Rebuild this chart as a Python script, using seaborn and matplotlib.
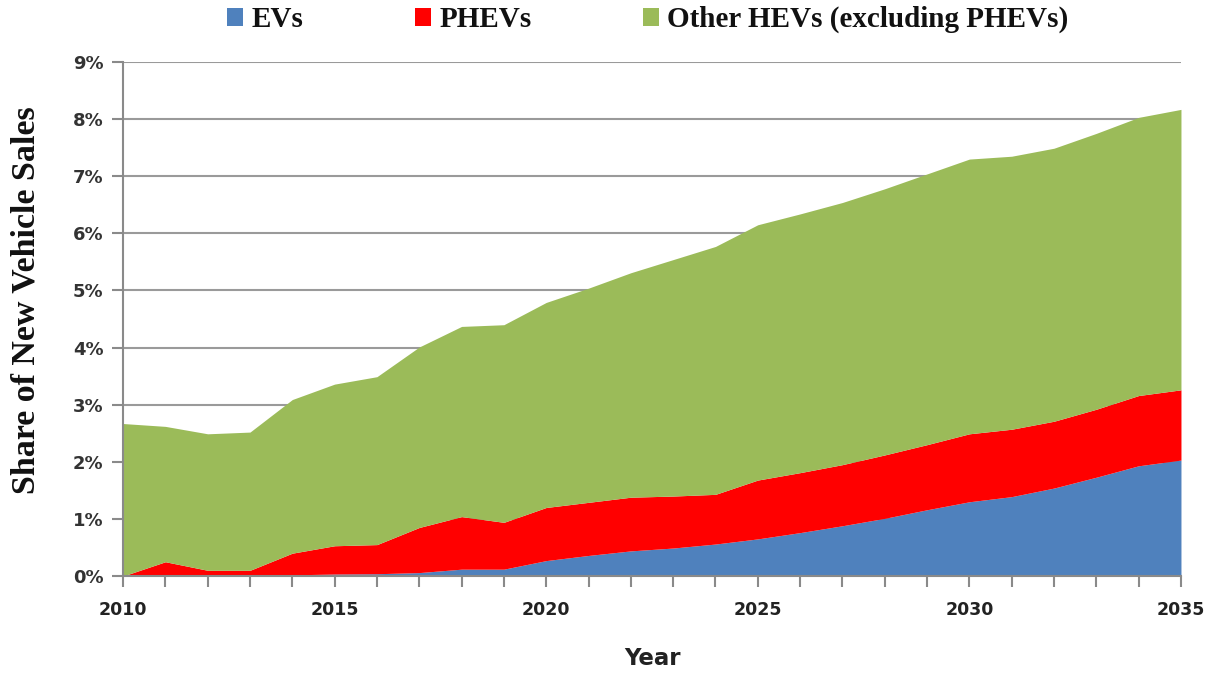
import numpy as np
import pandas as pd
import matplotlib
matplotlib.use("Agg")
import matplotlib.pyplot as plt
import seaborn as sns
from matplotlib.patches import Patch
from matplotlib.ticker import FuncFormatter, MultipleLocator

years = list(range(2010, 2036))
# cumulative tops (% of new vehicle sales)
ev_top = [0.0, 0.01, 0.01, 0.01, 0.02, 0.035, 0.04, 0.06, 0.12, 0.12, 0.27, 0.36, 0.44,
          0.49, 0.56, 0.65, 0.76, 0.88, 1.01, 1.16, 1.30, 1.39, 1.54, 1.73, 1.93, 2.03]
phev_top = [0.0, 0.25, 0.10, 0.10, 0.40, 0.53, 0.55, 0.85, 1.04, 0.94, 1.20, 1.29, 1.38,
            1.40, 1.43, 1.68, 1.81, 1.95, 2.12, 2.30, 2.49, 2.57, 2.71, 2.92, 3.16, 3.26]
total_top = [2.67, 2.62, 2.49, 2.52, 3.09, 3.36, 3.49, 4.01, 4.37, 4.40, 4.79, 5.04, 5.31,
             5.54, 5.77, 6.15, 6.34, 6.54, 6.78, 7.04, 7.30, 7.35, 7.49, 7.75, 8.03, 8.17]

series_names = ["EVs", "PHEVs", "Other HEVs (excluding PHEVs)"]
colors = ["#4F81BD", "#FF0000", "#9BBB59"]

df = pd.DataFrame({"Year": years, "ev": ev_top, "phev": phev_top, "total": total_top})
df["EVs"] = df["ev"]
df["PHEVs"] = df["phev"] - df["ev"]
df["Other HEVs (excluding PHEVs)"] = df["total"] - df["phev"]

sns.set_theme(style="white")
plt.rcParams["font.family"] = ["DejaVu Sans"]

fig = plt.figure(figsize=(12.11, 6.73), dpi=100)
ax = fig.add_axes([0.1016, 0.1441, 0.8736, 0.7638])

ax.stackplot(df["Year"], [df[n] for n in series_names], colors=colors, linewidth=0, zorder=2)

ax.set_xlim(2010, 2035)
ax.set_ylim(0, 9)
ax.yaxis.set_major_locator(MultipleLocator(1))
ax.yaxis.set_major_formatter(FuncFormatter(lambda v, p: f"{int(round(v))}%"))
ax.set_xticks(years, minor=True)
ax.set_xticks([2010, 2015, 2020, 2025, 2030, 2035])
ax.grid(axis="y", color="#9a9a9a", linewidth=1.5, zorder=1)
ax.grid(axis="x", visible=False)
ax.set_axisbelow(True)

for s in ["top", "right"]:
    ax.spines[s].set_visible(False)
for s in ["left", "bottom"]:
    ax.spines[s].set_color("#8a8a8a")
    ax.spines[s].set_linewidth(1.5)
    ax.spines[s].set_zorder(3)

ax.tick_params(axis="y", which="major", left=True, length=8, width=1.5, color="#8a8a8a",
               labelsize=13, labelcolor="#333333", pad=6)
ax.tick_params(axis="x", which="both", bottom=True, length=8, width=1.5, color="#8a8a8a",
               direction="out")
ax.tick_params(axis="x", which="major", labelsize=12.5, labelcolor="#222222", pad=10)
for lab in ax.get_xticklabels():
    lab.set_fontweight("bold")
for lab in ax.get_yticklabels():
    lab.set_fontweight("semibold")

ax.set_xlabel("Year", fontsize=16.5, fontweight="bold", color="#222222", labelpad=20)
ax.set_ylabel("Share of New Vehicle Sales", fontsize=24.5, fontweight="bold",
              family="Liberation Serif", color="#111111")
ax.yaxis.set_label_coords(-0.077, 0.537)

handles = [Patch(facecolor=c, edgecolor="none") for c in colors]
leg = fig.legend(handles, series_names, loc="upper center", bbox_to_anchor=(0.535, 1.03),
                 ncol=3, frameon=False, handlelength=0.55, handleheight=0.6,
                 handletextpad=0.3, columnspacing=3.8,
                 prop={"family": "Liberation Serif", "weight": "bold", "size": 21})
for t in leg.get_texts():
    t.set_color("#111111")

fig.savefig("out.png", dpi=100)
